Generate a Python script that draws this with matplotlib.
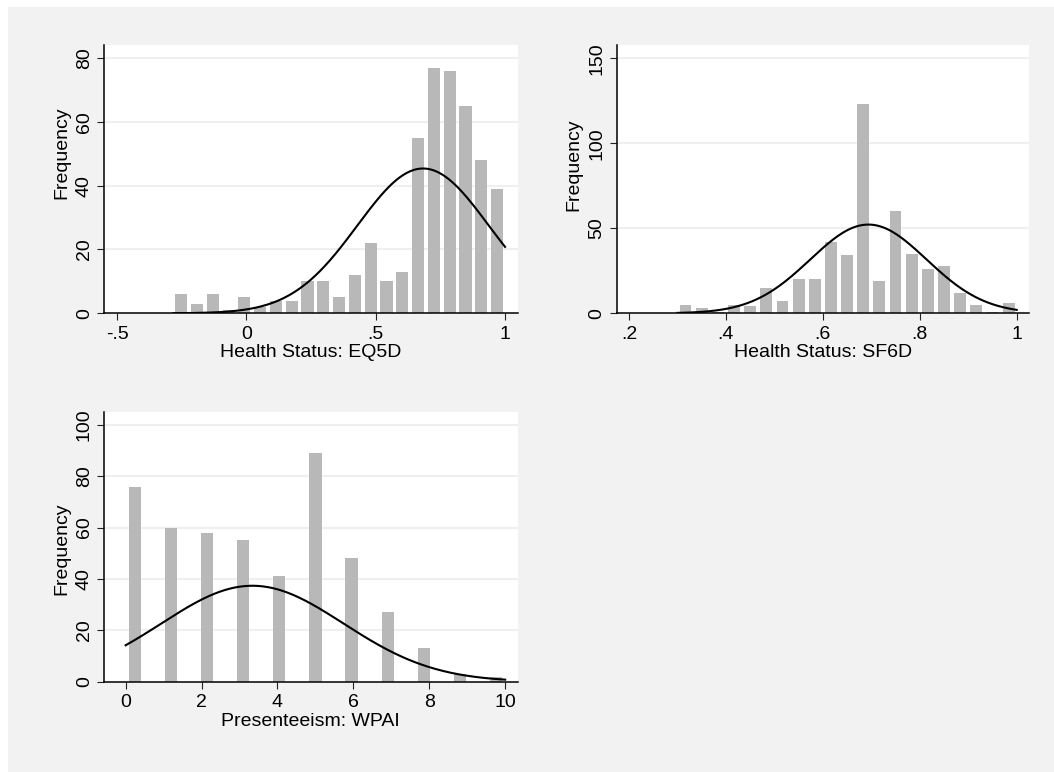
import numpy as np
import matplotlib
matplotlib.use("Agg")
import matplotlib.pyplot as plt
from matplotlib.patches import Rectangle

plt.rcParams['font.family'] = ['Liberation Sans', 'DejaVu Sans']
plt.rcParams['font.size'] = 14

# EQ5D histogram (21 bins between min and max)
eq5d_counts = [6, 3, 6, 1, 5, 2, 4, 4, 10, 10, 5, 12, 22, 10, 13, 55, 77, 76, 65, 48, 39]
eq5d_range = (-0.283, 1.0)
eq5d_mean, eq5d_sd = 0.683, 0.254

# SF6D histogram
sf6d_counts = [5, 3, 1, 5, 4, 15, 7, 20, 20, 42, 34, 123, 19, 60, 35, 26, 28, 12, 5, 1, 6]
sf6d_range = (0.30, 1.0)
sf6d_mean, sf6d_sd = 0.694, 0.12

# WPAI presenteeism (integer scores 0-10)
wpai_values = [0, 1, 2, 3, 4, 5, 6, 7, 8, 9, 10]
wpai_counts = [76, 60, 58, 55, 41, 89, 48, 27, 13, 3, 2]
wpai_range = (0, 10)
wpai_mean, wpai_sd = 3.34, 2.40

W, H = 1054, 772
BAR = '#b8b8b8'
GRID = '#efefef'

fig = plt.figure(figsize=(W / 100, H / 100), dpi=100)
fig.patch.set_facecolor('white')
fig.add_artist(Rectangle((8 / W, -0.5), 2, 1.5 - 7 / H, transform=fig.transFigure,
                         facecolor='#f2f2f2', edgecolor='none', zorder=-10))


def make_ax(left, top, right, bottom):
    ax = fig.add_axes([left / W, 1 - bottom / H, (right - left) / W, (bottom - top) / H])
    ax.set_facecolor('white')
    for s in ['top', 'right']:
        ax.spines[s].set_visible(False)
    for s in ['left', 'bottom']:
        ax.spines[s].set_linewidth(1.1)
        ax.spines[s].set_color('black')
    ax.tick_params(direction='out', length=5, width=0.8, color='#222222')
    ax.tick_params(axis='x', pad=4)
    ax.tick_params(axis='y', pad=3)
    ax.set_axisbelow(True)
    return ax


def draw_hist(ax, values, counts, rng, mean, sd, rwidth):
    edges = np.linspace(rng[0], rng[1], 22)
    ax.hist(values, bins=edges, weights=counts, color=BAR, rwidth=rwidth, zorder=2)
    width = edges[1] - edges[0]
    xs = np.linspace(rng[0], rng[1], 300)
    scale = sum(counts) * width
    ys = scale * np.exp(-0.5 * ((xs - mean) / sd) ** 2) / (sd * np.sqrt(2 * np.pi))
    ax.plot(xs, ys, color='black', lw=1.5, zorder=3)


def finish(ax, yticks, xticks, xlabels, xlabel, ylim, xlim, ylab_xy):
    ax.set_ylim(*ylim)
    ax.set_xlim(*xlim)
    ax.set_yticks(yticks)
    ax.set_yticklabels([str(t) for t in yticks], rotation=90, va='center')
    ax.set_xticks(xticks)
    ax.set_xticklabels(xlabels)
    for t in yticks[1:]:
        ax.axhline(t, color=GRID, lw=1.5, zorder=1)
    ax.set_xlabel(xlabel, labelpad=1)
    ax.set_ylabel('Frequency', labelpad=3)
    ax.yaxis.set_label_coords(*ylab_xy)


# panel 1: EQ5D
ax1 = make_ax(104, 45, 517.7, 313.3)
e = np.linspace(eq5d_range[0], eq5d_range[1], 22)
draw_hist(ax1, (e[:-1] + e[1:]) / 2, eq5d_counts, eq5d_range, eq5d_mean, eq5d_sd, 0.77)
finish(ax1, [0, 20, 40, 60, 80], [-0.5, 0, 0.5, 1], ['-.5', '0', '.5', '1'],
       'Health Status: EQ5D', (0, 84.1), (-0.551, 1.049), (-0.082, 0.60))

# panel 2: SF6D
ax2 = make_ax(616.7, 45, 1029, 313.3)
e = np.linspace(sf6d_range[0], sf6d_range[1], 22)
draw_hist(ax2, (e[:-1] + e[1:]) / 2, sf6d_counts, sf6d_range, sf6d_mean, sf6d_sd, 0.73)
finish(ax2, [0, 50, 100, 150], [0.2, 0.4, 0.6, 0.8, 1], ['.2', '.4', '.6', '.8', '1'],
       'Health Status: SF6D', (0, 157.8), (0.1746, 1.0254), (-0.084, 0.555))

# panel 3: WPAI
ax3 = make_ax(104, 412.3, 517.7, 681.7)
draw_hist(ax3, wpai_values, wpai_counts, wpai_range, wpai_mean, wpai_sd, 0.68)
finish(ax3, [0, 20, 40, 60, 80, 100], [0, 2, 4, 6, 8, 10], ['0', '2', '4', '6', '8', '10'],
       'Presenteeism: WPAI', (0, 104.9), (-0.57, 10.33), (-0.082, 0.495))

fig.savefig('out.png', dpi=100)
